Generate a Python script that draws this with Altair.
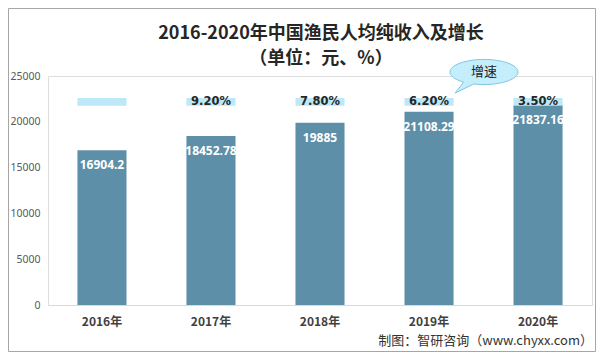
import altair as alt
import pandas as pd

years = ["2016年", "2017年", "2018年", "2019年", "2020年"]
income = [16904.2, 18452.78, 19885, 21108.29, 21837.16]
growth_labels = ["", "9.20%", "7.80%", "6.20%", "3.50%"]
y_ticks = [0, 5000, 10000, 15000, 20000, 25000]

title_line1 = "2016-2020年中国渔民人均纯收入及增长"
title_line2 = "（单位：元、%）"
bubble_text = "增速"
source_text = "制图：智研咨询（www.chyxx.com）"

df = pd.DataFrame({
    "year": years,
    "income": income,
    "label": [str(v) for v in income],
    "growth_label": growth_labels,
})
one = pd.DataFrame({"k": [0]})

CJK = "Noto Sans CJK SC"

x_enc = alt.X(
    "year:N", sort=years,
    scale=alt.Scale(paddingInner=0.55, paddingOuter=0.27),
    axis=alt.Axis(title=None, labelAngle=0, labelFont=CJK, labelFontWeight="bold",
                  labelFontSize=12, labelColor="#404040", labelPadding=11,
                  ticks=False, domainColor="#d9d9d9", domainWidth=1),
)
y_scale = alt.Scale(domain=[0, 25000], nice=False)
y_axis = alt.Axis(title=None, values=y_ticks, format="d", grid=False, domain=False, ticks=False,
                  labelFont="Noto Sans", labelFontSize=10.5, labelColor="#595959",
                  labelPadding=8)
y_enc = alt.Y("income:Q", scale=y_scale, axis=y_axis)

bars = alt.Chart(df).mark_bar(color="#5e8fa8").encode(x=x_enc, y=y_enc)

values = alt.Chart(df).mark_text(
    font="Noto Sans", fontWeight="bold", fontSize=12, color="white",
    baseline="middle", dy=15,
).encode(x=x_enc, y=y_enc, text="label:N")

band = alt.Chart(df).mark_bar(color="#bde8f7").encode(
    x=x_enc, y=alt.Y(datum=21750, scale=y_scale, axis=y_axis), y2=alt.datum(22600)
)

pct = alt.Chart(df).mark_text(
    font="DejaVu Sans", fontWeight="bold", fontSize=11.5, color="#262626", baseline="middle",
).encode(x=x_enc, y=alt.Y(datum=22175, scale=y_scale, axis=y_axis), text="growth_label:N")

bubble_path = "M -0.6 0.296 L -0.85 0.62 L -0.3 0.353 A 1 0.37 0 1 0 -0.6 0.296 Z"
bubble = alt.Chart(one).mark_point(
    shape=bubble_path, size=4624, filled=True, fill="#c5eefc", stroke="#7ec8e3",
    strokeWidth=1, opacity=1,
).encode(x=alt.value(436), y=alt.value(-4))

bubble_label = alt.Chart(one).mark_text(
    font=CJK, fontSize=13, color="#222222", baseline="middle", align="center",
).encode(x=alt.value(436), y=alt.value(-4), text=alt.value(bubble_text))

t1 = alt.Chart(one).mark_text(
    font=CJK, fontSize=18, fontWeight="bold", color="#262626", baseline="middle", align="center",
).encode(x=alt.value(273), y=alt.value(-42), text=alt.value(title_line1))

t2 = alt.Chart(one).mark_text(
    font=CJK, fontSize=18, fontWeight="bold", color="#262626", baseline="middle", align="center",
).encode(x=alt.value(273), y=alt.value(-17), text=alt.value(title_line2))

src = alt.Chart(one).mark_text(
    font=CJK, fontSize=13, color="#333333", baseline="middle", align="right",
).encode(x=alt.value(545), y=alt.value(265), text=alt.value(source_text))

border = alt.Chart(one).mark_rect(
    fillOpacity=0, stroke="#a6a6a6", strokeWidth=1,
).encode(x=alt.value(-39.5), x2=alt.value(547.5), y=alt.value(-67.5), y2=alt.value(275.5))

chart = alt.layer(
    bars, values, band, pct, bubble, bubble_label, t1, t2, src, border
).properties(
    width=544, height=229,
    padding={"left": 40, "top": 68, "right": 4, "bottom": 47},
    autosize=alt.AutoSizeParams(type="none"),
).configure_view(stroke=None).configure(background="white")

chart.save("out.html", embed_options={"renderer": "svg", "actions": False})
